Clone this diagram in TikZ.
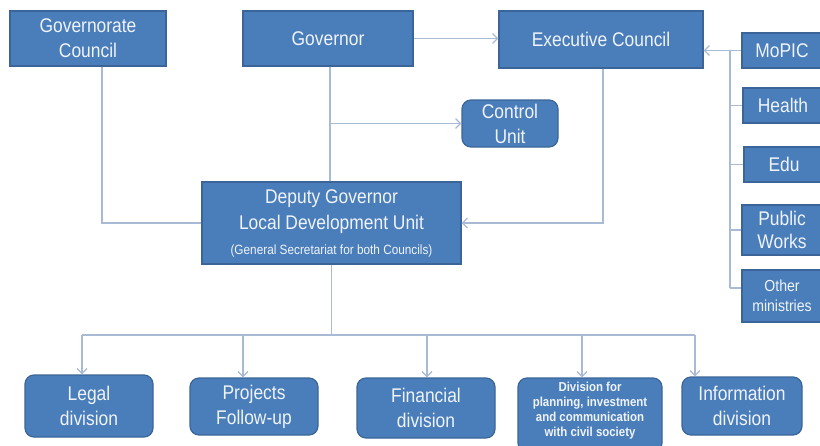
\documentclass[tikz,border=0pt]{standalone}
\usepackage{fontspec}
\setmainfont{Liberation Sans}[FakeStretch=0.88]
\usetikzlibrary{arrows.meta}
\definecolor{boxfill}{HTML}{4A7EBB}
\definecolor{boxline}{HTML}{3B6598}
\definecolor{connc}{HTML}{A8BAD4}
\definecolor{txt}{HTML}{F0F3F8}
\begin{document}
\begin{tikzpicture}[x=1pt,y=-1pt,
 box/.style={draw=boxline, line width=1.2pt, fill=boxfill, text=txt, align=center, inner sep=0pt, font=\fontsize{19.8}{25}\selectfont},
 rbox/.style={box, rounded corners=9pt},
 conn/.style={draw=connc, line width=1.5pt},
 arr/.style={conn, -{Straight Barb[length=5pt,width=10pt,line width=1.2pt]}}]
\useasboundingbox (0,0) rectangle (820,445);
% top row
\node[box, minimum width=156pt, minimum height=55pt] (gc) at (88,38.5) {Governorate\\Council};
\node[box, minimum width=170pt, minimum height=55pt] (gov) at (328,38.5) {Governor};
\node[box, minimum width=204pt, minimum height=57pt] (exec) at (601,39.5) {Executive Council};
% ministries
\node[box, minimum width=80pt, minimum height=35pt] (mopic) at (782,50.5) {MoPIC};
\node[box, minimum width=80pt, minimum height=35pt] (health) at (783,105.5) {Health};
\node[box, minimum width=80pt, minimum height=35pt] (edu) at (784,164.5) {Edu};
\node[box, minimum width=80pt, minimum height=50pt, font=\fontsize{19.8}{23}\selectfont] (pw) at (782,230) {Public\\Works};
\node[box, minimum width=80pt, minimum height=52pt, font=\fontsize{16}{20}\selectfont] (other) at (782,296) {Other\\ministries};
% middle
\node[rbox, minimum width=96pt, minimum height=47pt] (ctrl) at (510,123.5) {Control\\Unit};
\node[box, minimum width=259pt, minimum height=82pt, font=\fontsize{19.8}{26}\selectfont] (dep) at (331.5,223) {Deputy Governor\\Local Development Unit\\[-1pt]{\fontsize{13.4}{15}\selectfont (General Secretariat for both Councils)}};
% bottom row
\node[rbox, minimum width=128pt, minimum height=62pt] (legal) at (89,406) {Legal\\division};
\node[rbox, minimum width=128pt, minimum height=57pt] (proj) at (254,406.5) {Projects\\Follow-up};
\node[rbox, minimum width=138pt, minimum height=60pt] (fin) at (426,408) {Financial\\division};
\node[rbox, minimum width=144pt, minimum height=74pt] (div) at (590,415) {};
\node[text=txt, align=center, inner sep=0pt, font=\fontsize{13}{15}\selectfont\bfseries] (divt) at (590,411) {Division for\\planning, investment\\and communication\\with civil society};
\node[rbox, minimum width=120pt, minimum height=58pt] (info) at (742,406) {Information\\division};
% connectors top
\draw[arr] (gov.east) -- (exec.west |- gov.east);
\coordinate (gv) at ([xshift=2pt]gov.south);
\draw[conn] (gv) -- (gv |- dep.north);
\draw[arr] (gv |- ctrl.west) -- (ctrl.west);
\draw[conn] ([xshift=14pt]gc.south) |- (dep.west);
\draw[arr] ([xshift=2pt]exec.south) |- (dep.east);
% ministries
\coordinate (mx) at (730,50.5);
\coordinate (oth) at ([yshift=8pt]other.west);
\draw[arr] (mopic.west) -- (exec.east |- mopic.west);
\draw[conn] (mx) -- (mx |- oth);
\draw[conn] (mx |- health.west) -- (health.west);
\draw[conn] (mx |- edu.west) -- (edu.west);
\draw[conn] (mx |- pw.west) -- (pw.west);
\draw[conn] (mx |- oth) -- (oth);
% bottom bus
\coordinate (bus) at (331.5,335);
\coordinate (b1) at (82,335);
\coordinate (b2) at (243,335);
\coordinate (b3) at (427,335);
\coordinate (b4) at (582,335);
\coordinate (b5) at (695,335);
\draw[conn] (dep.south) -- (bus);
\draw[conn] (b1) -- (b5);
\draw[arr] (b1) -- (b1 |- legal.north);
\draw[arr] (b2) -- (b2 |- proj.north);
\draw[arr] (b3) -- (b3 |- fin.north);
\draw[arr] (b4) -- (b4 |- div.north);
\draw[arr] (b5) -- (b5 |- info.north);
\end{tikzpicture}
\end{document}
